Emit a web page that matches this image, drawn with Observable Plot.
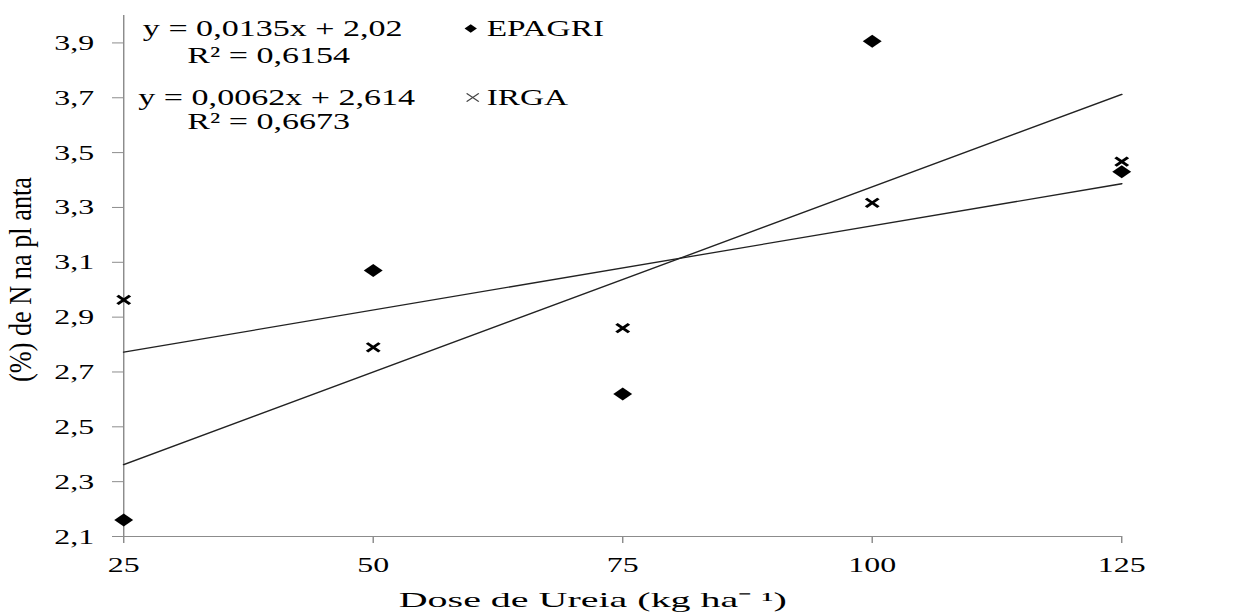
<!DOCTYPE html>
<html><head><meta charset="utf-8">
<script src="https://cdn.jsdelivr.net/npm/d3@7"></script>
<script src="https://cdn.jsdelivr.net/npm/@observablehq/plot@0.6"></script>
<style>
html,body{margin:0;padding:0;background:#fff;}
#chart svg{display:block;}
g[aria-label="x-axis tick"], g[aria-label="y-axis tick"]{stroke:#8c8c8c;}
g[aria-label="x-axis"] line, g[aria-label="y-axis"] line{stroke:#8c8c8c;}
</style></head><body><div id="chart"></div>
<script>
// ---- data ----
const doses = [25, 50, 75, 100, 125];
const epagri = [2.16, 3.07, 2.62, 3.906, 3.43];
const irga = [2.963, 2.79, 2.86, 3.317, 3.467];
const seriesNames = ["EPAGRI", "IRGA"];
const equationLines = ["y = 0,0135x + 2,02", "R² = 0,6154", "y = 0,0062x + 2,614", "R² = 0,6673"];
const xTicks = [25, 50, 75, 100, 125];
const yTicks = [2.1, 2.3, 2.5, 2.7, 2.9, 3.1, 3.3, 3.5, 3.7, 3.9];
const xDomain = [25, 125];
const yDomain = [2.1, 4.0];
const xLabel = "Dose de Ureia (kg ha⁻ ¹)";
const yLabel = "(%) de N na pl anta";

const rows = doses.flatMap((d, i) => [
  {dose: d, n: epagri[i], s: seriesNames[0]},
  {dose: d, n: irga[i], s: seriesNames[1]}
]);

// ---- layout (the original picture is stretched horizontally) ----
const W = 1239, H = 612, S = 1.45;
const iw = W / S;
const mL = 123 / S, mR = (W - 1121) / S, mT = 15, mB = 76;
const frameCx = (mL + (iw - mR)) / 2;
const frameCy = (mT + (H - mB)) / 2;

const diamond = {draw(ctx, size) { const h = Math.sqrt(size / 2); ctx.moveTo(0, -h); ctx.lineTo(h, 0); ctx.lineTo(0, h); ctx.lineTo(-h, 0); ctx.closePath(); }};
const cross = {draw(ctx, size) { const r = Math.sqrt(size / Math.PI); ctx.moveTo(-r, -r); ctx.lineTo(r, r); ctx.moveTo(-r, r); ctx.lineTo(r, -r); }};

const font = "'Liberation Serif', 'Times New Roman', serif";
const txt = (label, px, py, anchor, size) => Plot.text([label], {
  frameAnchor: "top-left", dx: px / S - mL, dy: py - mT, textAnchor: anchor, lineAnchor: "middle", fontSize: size
});

const chart = Plot.plot({
  width: iw, height: H,
  marginLeft: mL, marginRight: mR, marginTop: mT, marginBottom: mB,
  style: {fontFamily: font, fontSize: "22px", color: "black", background: "white", overflow: "visible"},
  x: {domain: xDomain, ticks: xTicks, tickFormat: d => String(d), tickSize: 7, tickPadding: 13, label: null},
  y: {domain: yDomain, ticks: yTicks, tickFormat: d => d.toFixed(1).replace(".", ","), tickSize: 7.6, tickPadding: 12.8, label: null},
  marks: [
    Plot.ruleX([xDomain[0]], {stroke: "#8c8c8c", strokeWidth: 1}),
    Plot.ruleY([yDomain[0]], {stroke: "#8c8c8c", strokeWidth: 1.2}),
    Plot.linearRegressionY(rows, {x: "dose", y: "n", z: "s", stroke: "#222", strokeWidth: 1.3, ci: 0}),
    Plot.dot(rows.filter(d => d.s === seriesNames[0]), {x: "dose", y: "n", symbol: diamond, r: 5.2, fill: "black", stroke: "none"}),
    Plot.dot(rows.filter(d => d.s === seriesNames[1]), {x: "dose", y: "n", symbol: cross, r: 4.3, fill: "none", stroke: "black", strokeWidth: 2.4}),
    // regression equations
    txt(equationLines[0], 272, 28, "middle", 23.5),
    txt(equationLines[1], 268, 55, "middle", 23.5),
    txt(equationLines[2], 276, 97, "middle", 23.5),
    txt(equationLines[3], 268, 121, "middle", 23.5),
    // legend
    Plot.dot([seriesNames[0]], {frameAnchor: "top-left", dx: 470 / S - mL, dy: 28 - mT, symbol: diamond, r: 3.4, fill: "black", stroke: "none"}),
    Plot.dot([seriesNames[1]], {frameAnchor: "top-left", dx: 472 / S - mL, dy: 97 - mT, symbol: cross, r: 4.2, fill: "none", stroke: "#444", strokeWidth: 1}),
    txt(seriesNames[0], 486, 28, "start", 23),
    txt(seriesNames[1], 486, 97, "start", 23),
    // axis titles
    Plot.text([xLabel], {frameAnchor: "bottom", dx: 592 / S - frameCx, dy: 63, lineAnchor: "middle", textAnchor: "middle", fontSize: 22}),
    Plot.text([yLabel], {frameAnchor: "left", rotate: -90, dx: 20 / S - mL, dy: 279 - frameCy, lineAnchor: "middle", textAnchor: "middle", fontSize: 22})
  ]
});

// stretch the x label / y label to the lengths seen in the reference
d3.select(chart).selectAll("text").each(function() {
  if (this.textContent === xLabel) { this.setAttribute("textLength", 388 / S); this.setAttribute("lengthAdjust", "spacingAndGlyphs"); }
  if (this.textContent === yLabel) { this.setAttribute("textLength", 205); this.setAttribute("lengthAdjust", "spacingAndGlyphs"); }
});

chart.setAttribute("width", W);
chart.setAttribute("height", H);
chart.setAttribute("preserveAspectRatio", "none");
chart.style.width = W + "px";
chart.style.height = H + "px";
chart.style.maxWidth = "none";
document.getElementById("chart").appendChild(chart);
</script>
</body></html>
